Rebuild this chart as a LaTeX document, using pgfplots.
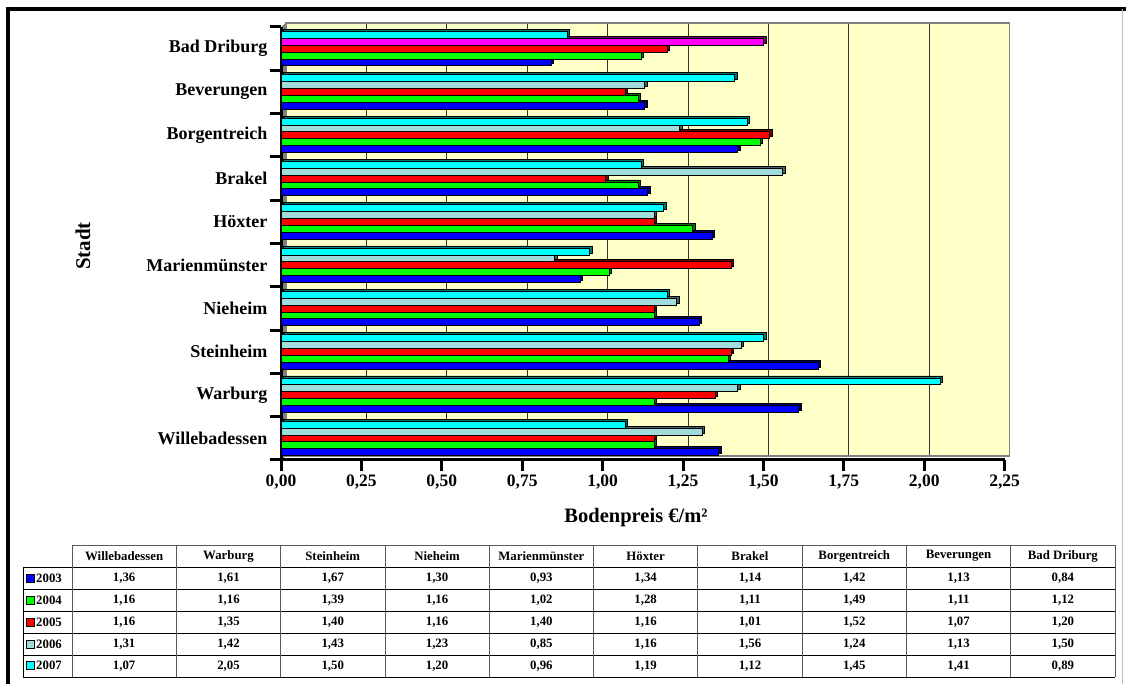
\documentclass[border=0pt]{standalone}
\usepackage{pgfplots}
\usepackage{pgfplotstable}
\pgfplotsset{compat=1.18}
\usepackage{fontspec}
\setmainfont{Liberation Serif}

\definecolor{c03}{RGB}{0,0,255}
\definecolor{c04}{RGB}{0,255,0}
\definecolor{c05}{RGB}{255,0,0}
\definecolor{c06}{RGB}{160,220,220}
\definecolor{c07}{RGB}{0,255,255}
\definecolor{cmag}{RGB}{255,0,255}
\definecolor{wall}{RGB}{255,255,200}

% Bodenpreise in EUR/m^2, one row per town (0 = Willebadessen ... 9 = Bad Driburg)
\pgfplotstableread[col sep=comma]{
idx,y03,y04,y05,y06,y07
0,1.36,1.16,1.16,1.31,1.07
1,1.61,1.16,1.35,1.42,2.05
2,1.67,1.39,1.40,1.43,1.50
3,1.30,1.16,1.16,1.23,1.20
4,0.93,1.02,1.40,0.85,0.96
5,1.34,1.28,1.16,1.16,1.19
6,1.14,1.11,1.01,1.56,1.12
7,1.42,1.49,1.52,1.24,1.45
8,1.13,1.11,1.07,1.13,1.41
9,0.84,1.12,1.20,1.50,0.89
}\prices

\newcommand\tabfont{\fontsize{12.8}{14}\selectfont\bfseries}
\pgfplotsset{
  barbase/.style={xbar, bar width=6.86pt, draw=black, line width=0.7pt},
  shade/.style={barbase, xshift=2.5pt, yshift=2pt},
}

\begin{document}
\begin{tikzpicture}[x=1pt,y=1pt]
\path[use as bounding box] (0,0) rectangle (1126,684);

% back wall with grid
\begin{axis}[
  at={(286pt,228pt)}, anchor=south west,
  scale only axis, width=723.6pt, height=433pt,
  xmin=0, xmax=2.25, ymin=-0.5, ymax=9.5,
  xtick={0.25,0.5,...,2.0}, ytick=\empty, xticklabels={},
  major tick length=0pt,
  xmajorgrids, major grid style={line width=0.9pt, black!80},
  axis background/.style={fill=wall},
  axis line style={line width=1.5pt, gray},
]
\end{axis}

% side wall
\fill[gray] (281,224) -- (286,228) -- (286,661) -- (281,657) -- cycle;

\begin{axis}[
  at={(281pt,224pt)}, anchor=south west,
  scale only axis, width=723.6pt, height=433pt,
  xmin=0, xmax=2.25, ymin=-0.5, ymax=9.5,
  axis x line*=bottom, axis y line*=left,
  axis line style={line width=3pt},
  xtick={0,0.25,...,2.25},
  ytick={-0.5,0.5,...,9.5},
  y tick label as interval,
  yticklabels={Willebadessen,Warburg,Steinheim,Nieheim,Marienmünster,Höxter,Brakel,Borgentreich,Beverungen,Bad Driburg},
  tick align=outside, major tick length=11.5pt,
  tick style={line width=3pt, black},
  xticklabel style={font=\fontsize{17.5}{20}\selectfont\bfseries,
    /pgf/number format/.cd, fixed, fixed zerofill, precision=2, use comma, assume math mode=true},
  yticklabel style={inner sep=2pt, font=\fontsize{18}{20}\selectfont\bfseries},
  clip=false,
]
% side/top faces
\addplot[shade, fill=c03!45!black, bar shift=-13.72pt] table[x=y03, y=idx] {\prices};
\addplot[shade, fill=c04!45!black, bar shift=-6.86pt] table[x=y04, y=idx] {\prices};
\addplot[shade, fill=c05!45!black, bar shift=0pt] table[x=y05, y=idx] {\prices};
\addplot[shade, fill=c06!45!black, bar shift=6.86pt, skip coords between index={9}{10}] table[x=y06, y=idx] {\prices};
\addplot[shade, fill=cmag!45!black, bar shift=6.86pt, skip coords between index={0}{9}] table[x=y06, y=idx] {\prices};
\addplot[shade, fill=c07!45!black, bar shift=13.72pt] table[x=y07, y=idx] {\prices};
% front faces
\addplot[barbase, fill=c03, bar shift=-13.72pt] table[x=y03, y=idx] {\prices};
\addplot[barbase, fill=c04, bar shift=-6.86pt] table[x=y04, y=idx] {\prices};
\addplot[barbase, fill=c05, bar shift=0pt] table[x=y05, y=idx] {\prices};
\addplot[barbase, fill=c06, bar shift=6.86pt, skip coords between index={9}{10}] table[x=y06, y=idx] {\prices};
\addplot[barbase, fill=cmag, bar shift=6.86pt, skip coords between index={0}{9}] table[x=y06, y=idx] {\prices};
\addplot[barbase, fill=c07, bar shift=13.72pt] table[x=y07, y=idx] {\prices};
\end{axis}

% axis titles
\node[rotate=90, font=\fontsize{21}{24}\selectfont\bfseries] at (83,438) {Stadt};
\node[font=\fontsize{20.5}{24}\selectfont\bfseries] at (636,166) {Bodenpreis €/m²};

% data table
\draw[gray!70!black, line width=0.8pt] (72,139) -- (1115,139);
\foreach \yy in {117,95,73,51,29,7}
  \draw[black, line width=0.8pt] (23,\yy) -- (1115,\yy);
\draw[black, line width=0.8pt] (23,117) -- (23,7);
\foreach \k in {0,...,10}
  \draw[gray!70!black, line width=0.8pt] ({72+104.3*\k},139) -- ({72+104.3*\k},7);
\foreach \name [count=\i from 0] in {Willebadessen,Warburg,Steinheim,Nieheim,Marienmünster,Höxter,Brakel,Borgentreich,Beverungen,Bad Driburg}
  \node[font=\tabfont] at ({72+104.3*(\i+0.5)},128) {\name};
\foreach \yr/\col [count=\r from 0] in {2003/c03,2004/c04,2005/c05,2006/c06,2007/c07} {
  \pgfmathsetmacro\rowy{105.8-21.9*\r}
  \draw[black, line width=0.6pt, fill=\col] (26.5,\rowy-4) rectangle (34.5,\rowy+4);
  \node[font=\tabfont, anchor=west, inner sep=0pt] at (36,\rowy) {\yr};
}
\foreach \yr [count=\r from 0] in {03,04,05,06,07} {
  \foreach \i in {0,...,9} {
    \pgfplotstablegetelem{\i}{y\yr}\of\prices
    \pgfmathsetmacro\rowy{105.8-21.9*\r}
    \node[font=\tabfont] at ({72+104.3*(\i+0.5)},\rowy)
      {\pgfmathprintnumber[fixed, fixed zerofill, precision=2, use comma, assume math mode=true]{\pgfplotsretval}};
  }
}

% frame
\draw[line width=4.5pt] (8,-5) -- (8,675) -- (1130,675);
\draw[gray!50, line width=1pt] (1122,675) -- (1122,0);
\end{tikzpicture}
\end{document}
